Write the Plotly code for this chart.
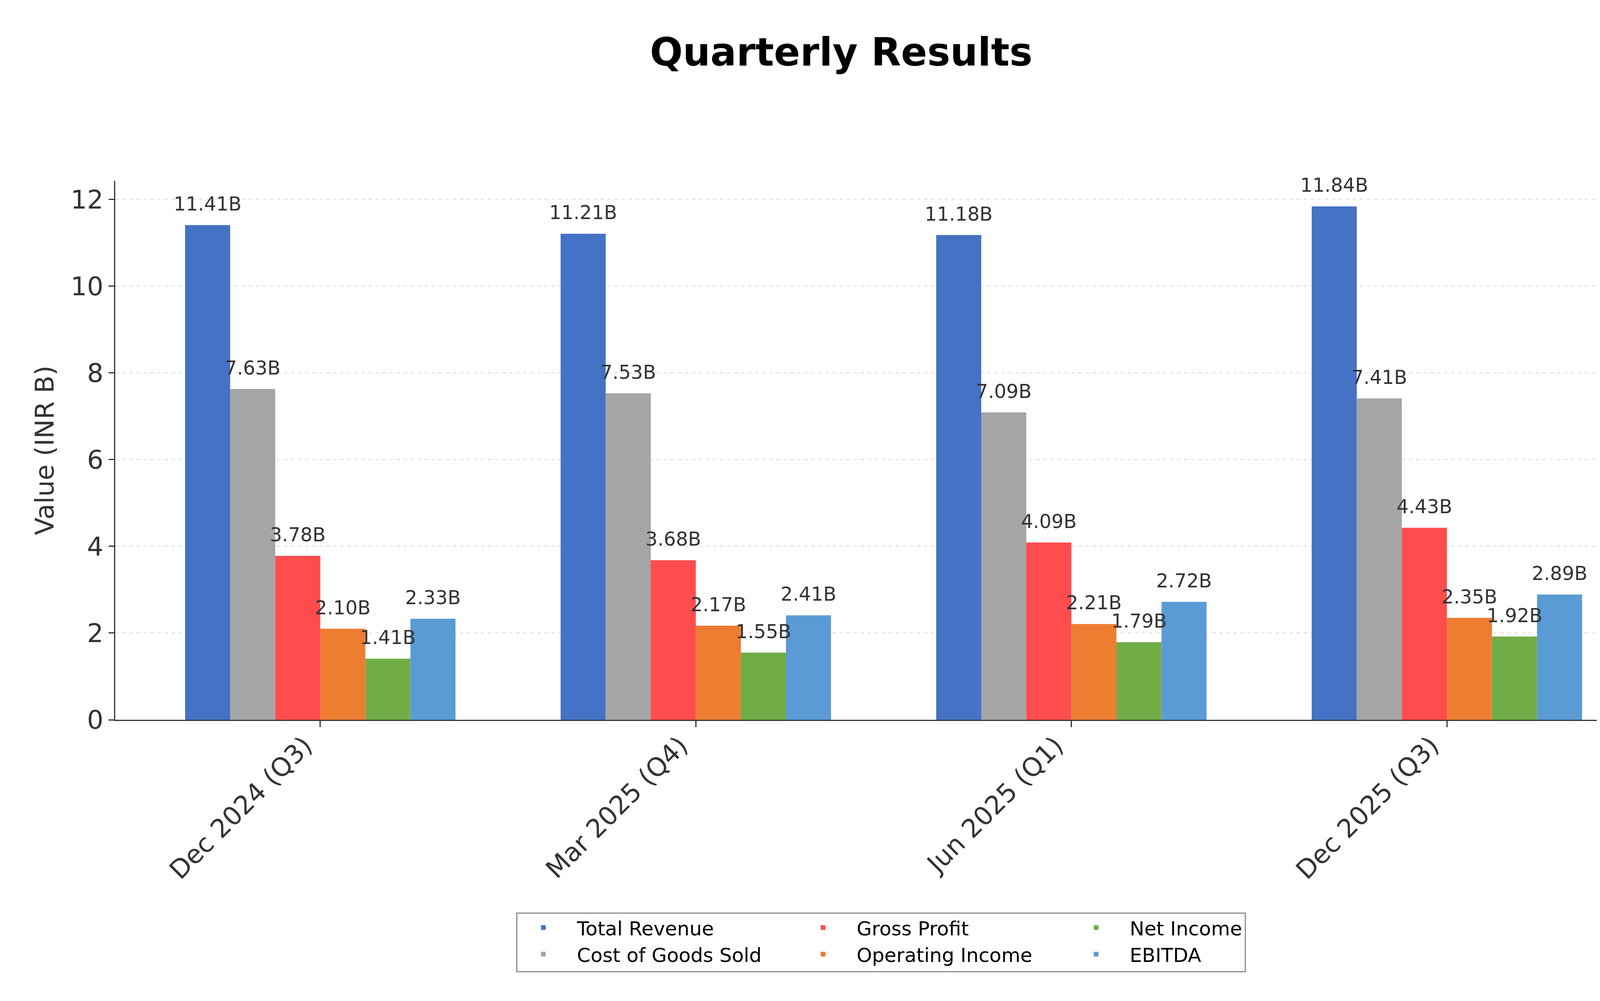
import plotly.graph_objects as go

# quarterly figures, INR billions
quarters = ["Dec 2024 (Q3)", "Mar 2025 (Q4)", "Jun 2025 (Q1)", "Dec 2025 (Q3)"]
total_revenue = [11.41, 11.21, 11.18, 11.84]
cost_of_goods = [7.63, 7.53, 7.09, 7.41]
gross_profit = [3.78, 3.68, 4.09, 4.43]
operating_income = [2.10, 2.17, 2.21, 2.35]
net_income = [1.41, 1.55, 1.79, 1.92]
ebitda = [2.33, 2.41, 2.72, 2.89]

series = [
    ("Total Revenue", total_revenue, "#4472C4", "legend"),
    ("Cost of Goods Sold", cost_of_goods, "#A5A5A5", "legend"),
    ("Gross Profit", gross_profit, "#FF4D4D", "legend2"),
    ("Operating Income", operating_income, "#ED7D31", "legend2"),
    ("Net Income", net_income, "#70AD47", "legend3"),
    ("EBITDA", ebitda, "#5B9BD5", "legend3"),
]

W, H = 4291, 2563
L, R, T, B = 287, 70, 455, 728
pw, ph = W - L - R, H - T - B

fig = go.Figure()

# coloured bars first
for name, vals, color, leg in series:
    fig.add_trace(go.Bar(
        x=quarters, y=vals, name=name, legend=leg, offsetgroup=name,
        marker=dict(color=color, line=dict(width=0)),
        hoverinfo="x+y+name",
    ))

# value labels on transparent copies so every label sits above all bars
for name, vals, color, leg in series:
    fig.add_trace(go.Bar(
        x=quarters, y=vals, base=0.2, offsetgroup=name, showlegend=False,
        marker=dict(color="rgba(0,0,0,0)", line=dict(width=0)),
        text=[f"{v:.2f}B" for v in vals], textposition="outside",
        textfont=dict(size=49, color="#333333", family="DejaVu Sans"),
        constraintext="none", cliponaxis=False, hoverinfo="skip",
    ))


def px_x(v):
    return (v - L) / pw


def px_y(v):
    return (T + ph - v) / ph


leg_common = dict(orientation="v", yanchor="top", y=px_y(2328),
                  xanchor="left", bgcolor="rgba(0,0,0,0)", borderwidth=0,
                  font=dict(size=50, color="#000000", family="DejaVu Sans"),
                  itemwidth=162, tracegroupgap=0)

fig.update_layout(
    width=W, height=H,
    template="none",
    paper_bgcolor="white", plot_bgcolor="white",
    margin=dict(l=L, r=R, t=T, b=B, autoexpand=False),
    barmode="group", bargap=0.28, bargroupgap=0,
    font=dict(family="DejaVu Sans", color="#333333"),
    title=dict(text="<b>Quarterly Results</b>", x=0.5, xanchor="center",
               y=1 - 125 / H, yanchor="middle",
               font=dict(size=99, color="#000000", family="DejaVu Sans")),
    legend=dict(x=px_x(1297), **leg_common),
    legend2=dict(x=px_x(2013), **leg_common),
    legend3=dict(x=px_x(2712), **leg_common),
    shapes=[dict(type="rect", xref="paper", yref="paper",
                 x0=px_x(1315), x1=px_x(3180), y0=px_y(2480), y1=px_y(2330),
                 line=dict(color="#8a8a8a", width=3), fillcolor="rgba(0,0,0,0)",
                 layer="above")],
)

fig.update_xaxes(
    range=[-0.546, 3.546], automargin=False,
    showline=True, linecolor="#333333", linewidth=3, mirror=False,
    showgrid=False, zeroline=False,
    ticks="outside", ticklen=16, tickwidth=3, tickcolor="#333333",
    tickangle=-45, tickfont=dict(size=66, color="#333333"),
    ticklabelshift=-40, ticklabelstandoff=-18,
)
fig.update_yaxes(
    range=[0, 12.43], automargin=False,
    showline=True, linecolor="#333333", linewidth=3, mirror=False,
    showgrid=True, gridcolor="#e3e3e3", gridwidth=3, griddash="dash",
    zeroline=False, dtick=2, tick0=0,
    ticks="outside", ticklen=14, tickwidth=3, tickcolor="#333333",
    tickfont=dict(size=66, color="#333333"),
    title=dict(text="Value (INR B)", standoff=22,
               font=dict(size=66, color="#333333")),
)

fig.write_html("out.html")
